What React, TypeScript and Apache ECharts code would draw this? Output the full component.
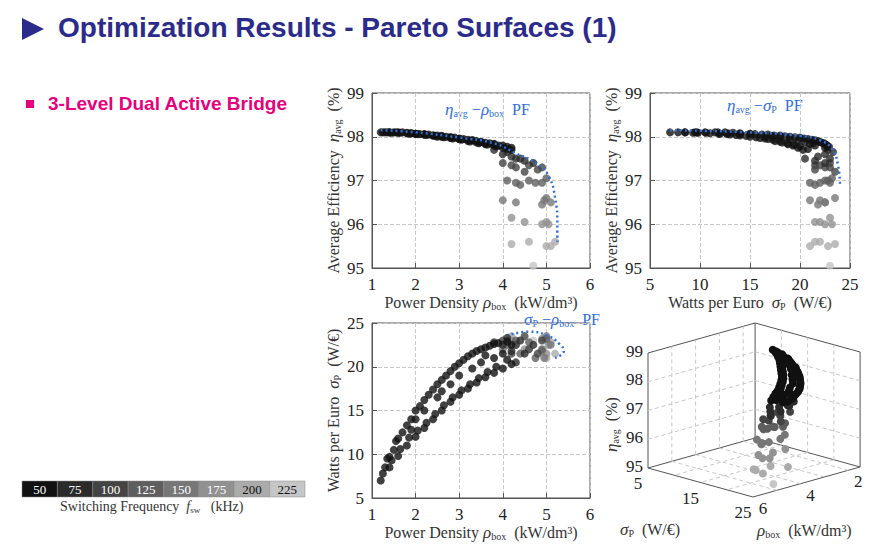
import { useEffect, useRef } from "react";
import * as echarts from "echarts";

// design points: [rho_box (kW/dm3), sigma_P (W/€), eta_avg (%)]
const freqs = [50, 75, 100, 125, 150, 175, 200, 225];
const freqColors = ["#111111", "#2b2b2b", "#444444", "#5e5e5e", "#777777", "#919191", "#ababab", "#c6c6c6"];

const f50 = [
  [1.3, 8.5, 98.1], [1.5, 10.5, 98.1], [1.7, 12.5, 98.1], [1.9, 14, 98.08], [2.1, 15.5, 98.06],
  [2.3, 16.8, 98.05], [2.5, 18, 98.03], [2.7, 19, 98.0], [2.9, 20, 97.98], [3.1, 20.8, 97.95],
  [3.3, 21.5, 97.92], [3.5, 22, 97.88], [3.7, 22.4, 97.85], [3.9, 22.7, 97.8],
  [1.2, 7, 98.1], [1.4, 8.5, 98.1], [1.6, 9.8, 98.09], [1.8, 11, 98.08], [2.0, 12, 98.07],
  [2.2, 13, 98.05], [2.4, 14, 98.03], [2.6, 15, 98.0], [2.8, 16, 97.97], [3.0, 16.8, 97.95],
  [3.2, 17.5, 97.9], [3.4, 18.2, 97.87], [3.6, 18.8, 97.83], [3.8, 19.3, 97.8], [4.0, 19.8, 97.75],
  [4.2, 20.3, 97.7], [2.5, 16.5, 98.0], [3.0, 19, 97.95], [3.5, 20.5, 97.88], [4.0, 21.5, 97.8],
  [4.2, 22.5, 97.75], [2.0, 14, 98.07], [1.55, 11.5, 98.1], [2.2, 15, 98.06], [2.8, 18, 97.99],
  [3.3, 19.8, 97.92], [3.8, 21, 97.84], [1.35, 9.5, 98.1], [1.9, 12.8, 98.08], [2.6, 17.2, 98.02],
  [1.25, 7.8, 98.1], [1.45, 9.3, 98.09], [1.65, 10.6, 98.09], [1.85, 11.9, 98.07], [2.05, 12.7, 98.06],
  [2.25, 13.6, 98.04], [2.45, 14.6, 98.02], [2.65, 15.6, 97.99], [2.85, 16.5, 97.96], [3.05, 17.3, 97.93],
  [3.25, 18.0, 97.89], [3.45, 18.7, 97.85], [3.65, 19.4, 97.82], [3.85, 20.0, 97.78], [4.1, 20.8, 97.72],
  [1.4, 9.7, 98.1], [1.6, 11.8, 98.1], [1.8, 13.3, 98.09], [2.0, 15.0, 98.07], [2.2, 16.2, 98.05],
  [2.4, 17.4, 98.03], [2.6, 18.5, 98.01], [2.8, 19.5, 97.99], [3.0, 20.4, 97.96], [3.2, 21.2, 97.93],
  [3.4, 21.8, 97.9], [3.6, 22.2, 97.86], [3.8, 22.6, 97.82], [4.1, 22.9, 97.77], [3.6, 21.3, 97.85],
];
const f75 = [[3.8, 22.8, 97.7], [4.0, 22.5, 97.6], [4.2, 21.8, 97.55], [4.4, 23, 97.5], [4.5, 21.5, 97.45], [4.7, 22.5, 97.4], [4.3, 20.5, 97.5], [4.1, 23.3, 97.65]];
const f100 = [[4.0, 23, 97.4], [4.3, 22.5, 97.3], [4.6, 22, 97.35], [4.8, 21.5, 97.25], [4.9, 23, 97.3], [4.5, 23.5, 97.2], [4.2, 21.5, 97.35]];
const f125 = [[4.1, 22.5, 97.0], [4.3, 23, 96.95], [4.6, 22.8, 97.0], [4.9, 22, 96.95], [5.0, 23.2, 97.05], [4.4, 21.5, 96.9], [4.75, 21, 96.95]];
const f150 = [[4.0, 22, 96.55], [4.3, 22.5, 96.5], [4.9, 21.8, 96.45], [5.1, 22.5, 96.5], [5.0, 23.5, 96.6], [4.95, 21, 96.55]];
const f175 = [[4.2, 23, 96.15], [4.5, 22, 96.05], [4.9, 23.2, 96.0], [5.0, 21.5, 96.05], [5.05, 22.5, 96.0]];
const f200 = [[4.2, 23.5, 95.55], [4.6, 22, 95.6], [5.0, 21, 95.5], [5.2, 21.5, 95.6], [5.1, 22.8, 95.5]];
const f225 = [[4.7, 23, 95.05]];
const designs = [f50, f75, f100, f125, f150, f175, f200, f225];

// Pareto fronts
const pfEtaRho = [[1.2, 98.15], [2, 98.1], [3, 97.98], [3.8, 97.85], [4.3, 97.62], [4.8, 97.38], [5.05, 97.1], [5.2, 96.6], [5.25, 96.0], [5.25, 95.6]];
const pfEtaSigma = [[7, 98.15], [15, 98.1], [20, 98.02], [22, 97.92], [23.2, 97.72], [23.8, 97.35], [24, 96.9]];
const pfSigmaRho = [[4.2, 23.7], [4.6, 24.0], [5.0, 23.6], [5.3, 22.6], [5.4, 21.8], [5.2, 21.0]];

const etaTicks = [95, 96, 97, 98, 99];
const sigmaTicks3d = [5, 15, 25];
const rhoTicks3d = [6, 4, 2];

const serif = "Liberation Serif";
const blue = "#2f6fde";
const ink = "#333";

// 3D projection (oblique view)
const O3 = [753, 497];
const project = (sigma: number, rho: number, eta: number) => [
  O3[0] + (sigma - 25) * 5.25 + (6 - rho) * 23.8,
  O3[1] + (sigma - 25) * 1.45 - (6 - rho) * 6.67 - (eta - 95) * 28.75,
];

const axisCommon = {
  axisLine: { lineStyle: { color: "#555" } },
  axisTick: { inside: true, lineStyle: { color: "#555" } },
  axisLabel: { color: "#222", fontSize: 17, fontFamily: serif },
  splitLine: { lineStyle: { color: "#c8c8c8", type: "dashed" as const } },
};
// rich styles for axis names (color) and for graphic texts (fill)
const mkRich = (c: string, key: "color" | "fill") => ({
  a: { fontSize: 16, fontFamily: serif, [key]: c },
  g: { fontSize: 17, fontFamily: serif, fontStyle: "italic", [key]: c },
  s: { fontSize: 10, fontFamily: serif, [key]: c, padding: [8, 0, 0, 0] },
});
const richName = mkRich(ink, "color");
const richText = mkRich(ink, "fill");
const blueRich = mkRich(blue, "fill");

export default function App() {
  const ref = useRef<HTMLDivElement>(null);

  useEffect(() => {
    if (!ref.current) return;
    const chart = echarts.init(ref.current, null, { renderer: "svg" });

    const pts = (gi: number, pick: (p: number[]) => number[]) =>
      designs.map((d, i) => ({
        type: "scatter" as const,
        xAxisIndex: gi,
        yAxisIndex: gi,
        symbolSize: 8,
        itemStyle: { color: freqColors[i] },
        data: d.map(pick),
        z: 10 - i,
      }));

    // 3D box graphics
    const g3: any[] = [];
    const ln = (a: number[], b: number[], dashed = false) =>
      g3.push({ type: "line", shape: { x1: a[0], y1: a[1], x2: b[0], y2: b[1] }, style: { stroke: dashed ? "#c8c8c8" : "#555", lineWidth: 1, lineDash: dashed ? [4, 3] : undefined }, silent: true });
    ln(project(5, 6, 95), project(25, 6, 95));
    ln(project(25, 6, 95), project(25, 1.5, 95));
    ln(project(5, 6, 95), project(5, 1.5, 95));
    ln(project(5, 1.5, 95), project(25, 1.5, 95));
    ln(project(5, 6, 95), project(5, 6, 99));
    ln(project(5, 1.5, 95), project(5, 1.5, 99));
    ln(project(25, 1.5, 95), project(25, 1.5, 99));
    ln(project(5, 6, 99), project(5, 1.5, 99));
    ln(project(5, 1.5, 99), project(25, 1.5, 99));
    etaTicks.slice(1, 4).forEach((e) => {
      ln(project(5, 6, e), project(5, 1.5, e), true);
      ln(project(5, 1.5, e), project(25, 1.5, e), true);
    });
    [10, 15, 20].forEach((s) => {
      ln(project(s, 1.5, 95), project(s, 1.5, 99), true);
      ln(project(s, 1.5, 95), project(s, 6, 95), true);
    });
    [2, 3, 4, 5].forEach((r) => {
      ln(project(5, r, 95), project(5, r, 99), true);
      ln(project(5, r, 95), project(25, r, 95), true);
    });
    etaTicks.forEach((e) => {
      const p = project(5, 6, e);
      g3.push({ type: "text", x: p[0] - 5, y: p[1] - 2, style: { text: String(e), fontSize: 17, fontFamily: serif, fill: "#222", align: "right", verticalAlign: "middle" } });
    });
    sigmaTicks3d.forEach((s) => {
      const p = project(s, 6, 95);
      g3.push({ type: "text", x: p[0] - 10, y: p[1] + 7, style: { text: String(s), fontSize: 17, fontFamily: serif, fill: "#222", align: "center", verticalAlign: "top" } });
    });
    rhoTicks3d.forEach((r) => {
      const p = project(25, r, 95);
      g3.push({ type: "text", x: p[0] + 10, y: p[1] + 3, style: { text: String(r), fontSize: 17, fontFamily: serif, fill: "#222", align: "center", verticalAlign: "top" } });
    });
    g3.push({ type: "text", x: 620, y: 520, style: { text: "{g|σ}{s|P}{a|  (W/€)}", rich: richText } });
    g3.push({ type: "text", x: 757, y: 521, style: { text: "{g|ρ}{s|box}{a|  (kW/dm³)}", rich: richText } });
    g3.push({ type: "text", x: 602, y: 452, rotation: Math.PI / 2, style: { text: "{g|η}{s|avg}{a|  (%)}", rich: richText } });

    // colour bar
    const cb: any[] = [];
    const cw = 283 / freqs.length;
    freqs.forEach((f, i) => {
      cb.push({ type: "rect", shape: { x: 22 + i * cw, y: 481, width: cw, height: 16 }, style: { fill: freqColors[i], stroke: "#888", lineWidth: 0.5 } });
      cb.push({ type: "text", x: 22 + (i + 0.5) * cw, y: 489, style: { text: String(f), fill: i < 6 ? "#fff" : "#111", fontSize: 13, fontFamily: serif, align: "center", verticalAlign: "middle" } });
    });
    cb.push({ type: "text", x: 60, y: 499, style: { text: "{a|Switching Frequency  }{g|f}{s|sw}{a|   (kHz)}", rich: { a: { fontSize: 14, fontFamily: serif, fill: ink }, g: { fontSize: 14, fontFamily: serif, fontStyle: "italic", fill: ink }, s: { fontSize: 9, fontFamily: serif, fill: ink, padding: [6, 0, 0, 0] } } } });

    const pfLine = (gi: number, data: number[][]) => ({
      type: "line" as const, xAxisIndex: gi, yAxisIndex: gi, data, symbol: "none", smooth: true,
      lineStyle: { color: blue, width: 2.5, type: [2, 3] as any }, z: 20,
    });
    const xName = (t: string) => ({ name: t, nameLocation: "middle" as const, nameGap: 20, nameTextStyle: { rich: richName } });
    const yName = (t: string) => ({ name: t, nameLocation: "middle" as const, nameGap: 30, nameRotate: 90, nameTextStyle: { rich: richName } });
    const rhoName = "{a|Power Density }{g|ρ}{s|box}{a|  (kW/dm³)}";
    const sigName = "{a|Watts per Euro  }{g|σ}{s|P}{a|  (W/€)}";
    const etaName = "{a|Average Efficiency  }{g|η}{s|avg}{a|  (%)}";

    chart.setOption({
      animation: false,
      grid: [
        { left: 372, top: 93, width: 218, height: 175, show: true, borderColor: "#555", backgroundColor: "#fff" },
        { left: 650, top: 93, width: 200, height: 175, show: true, borderColor: "#555", backgroundColor: "#fff" },
        { left: 372, top: 323, width: 218, height: 175, show: true, borderColor: "#555", backgroundColor: "#fff" },
      ],
      xAxis: [
        { ...axisCommon, gridIndex: 0, type: "value", min: 1, max: 6, interval: 1, ...xName(rhoName) },
        { ...axisCommon, gridIndex: 1, type: "value", min: 5, max: 25, interval: 5, ...xName(sigName) },
        { ...axisCommon, gridIndex: 2, type: "value", min: 1, max: 6, interval: 1, ...xName(rhoName) },
      ],
      yAxis: [
        { ...axisCommon, gridIndex: 0, type: "value", min: 95, max: 99, interval: 1, ...yName(etaName) },
        { ...axisCommon, gridIndex: 1, type: "value", min: 95, max: 99, interval: 1, ...yName(etaName) },
        { ...axisCommon, gridIndex: 2, type: "value", min: 5, max: 25, interval: 5, ...yName(sigName) },
      ],
      graphic: [
        { type: "polygon", shape: { points: [[22, 18], [22, 40], [44, 29]] }, style: { fill: "#2b2b8c" } },
        { type: "text", x: 58, y: 13, style: { text: "Optimization Results - Pareto Surfaces (1)", fontSize: 28, fontWeight: "bold", fontFamily: "Liberation Sans", fill: "#2b2b8c" } },
        { type: "rect", shape: { x: 26, y: 100, width: 8, height: 8 }, style: { fill: "#e6007e" } },
        { type: "text", x: 48, y: 94, style: { text: "3-Level Dual Active Bridge", fontSize: 19, fontWeight: "bold", fontFamily: "Liberation Sans", fill: "#e6007e" } },
        { type: "text", x: 445, y: 100, style: { text: "{g|η}{s|avg}{a| −}{g|ρ}{s|box}{a|  PF}", rich: blueRich } },
        { type: "text", x: 727, y: 96, style: { text: "{g|η}{s|avg}{a| −}{g|σ}{s|P}{a|  PF}", rich: blueRich } },
        { type: "text", x: 524, y: 310, style: { text: "{g|σ}{s|P}{a| −}{g|ρ}{s|box}{a|  PF}", rich: blueRich } },
        ...g3,
        ...cb,
      ],
      series: [
        ...pts(0, (p) => [p[0], p[2]]),
        ...pts(1, (p) => [p[1], p[2]]),
        ...pts(2, (p) => [p[0], p[1]]),
        pfLine(0, pfEtaRho),
        pfLine(1, pfEtaSigma),
        pfLine(2, pfSigmaRho),
        ...designs.map((d, i) => ({
          type: "custom" as const,
          coordinateSystem: "none",
          data: d,
          z: 10 - i,
          renderItem: (_p: any, api: any) => {
            const c = project(api.value(1), api.value(0), api.value(2));
            return { type: "circle", shape: { cx: c[0], cy: c[1], r: 4 }, style: { fill: freqColors[i] } };
          },
        })),
      ],
    });
    return () => chart.dispose();
  }, []);

  return <div ref={ref} style={{ position: "absolute", left: 0, top: 0, width: 887, height: 560, background: "#fff" }} />;
}
